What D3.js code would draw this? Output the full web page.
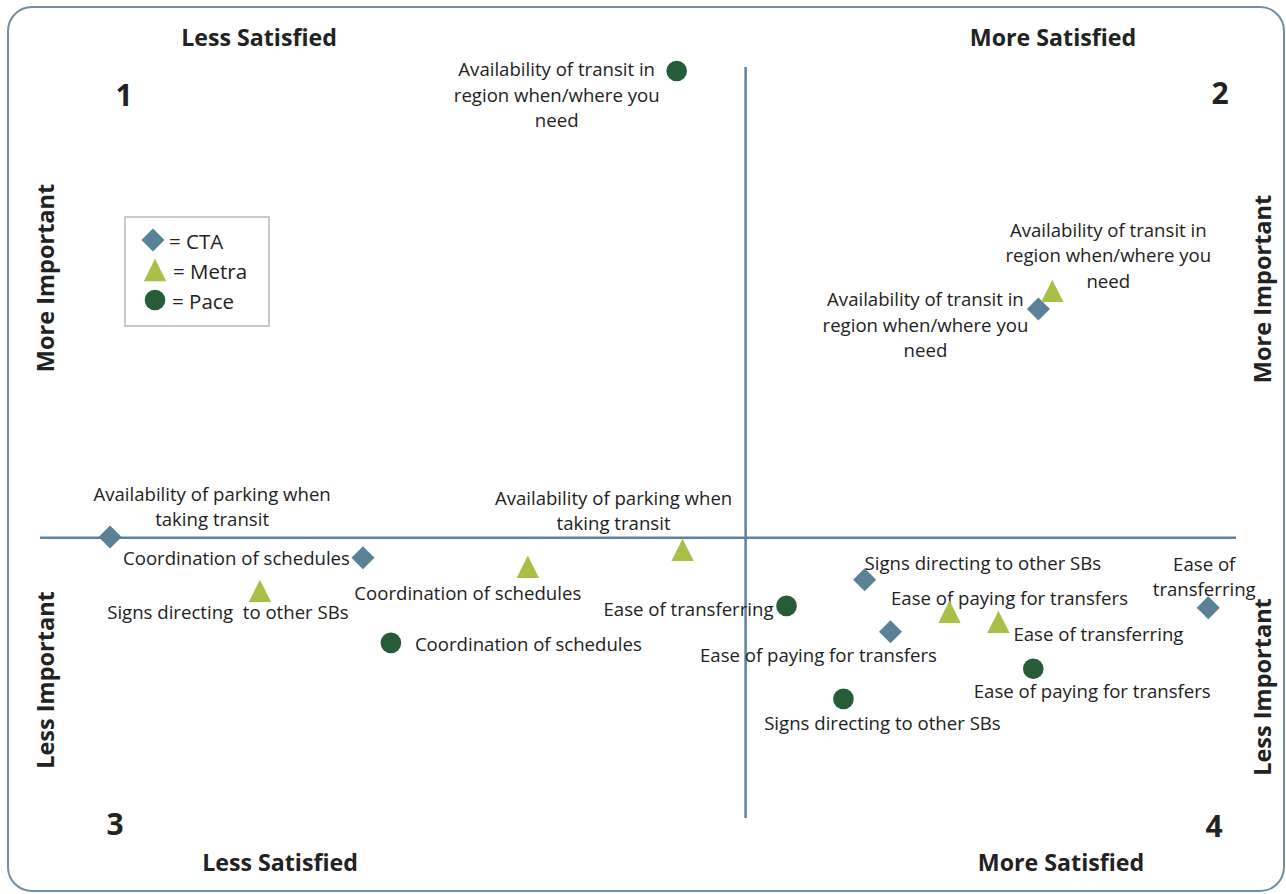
<!DOCTYPE html>
<html>
<head>
<meta charset="utf-8">
<script src="https://cdn.jsdelivr.net/npm/d3@7"></script>
<style>
  html, body { margin: 0; padding: 0; background: #fff; }
  svg { display: block; }
  text { font-family: "Open Sans", Lato, sans-serif; fill: #222; }
</style>
</head>
<body>
<svg id="chart" width="1286" height="894"></svg>
<script>
// Attribute names (one per row) and the three operators
const categories = [
  "Availability of transit in region when/where you need",
  "Availability of parking when taking transit",
  "Coordination of schedules",
  "Signs directing to other SBs",
  "Ease of paying for transfers",
  "Ease of transferring"
];
const operators = ["CTA", "Metra", "Pace"];

// Satisfaction (x) and importance (y), centred on the overall means
const ctaSatisfaction   = [1.245, -2.702, -1.627, 0.506, 0.616, 1.967];
const ctaImportance     = [0.972, 0.004, -0.085, -0.178, -0.399, -0.297];
const metraSatisfaction = [1.304, -0.268, -0.926, -2.065, 0.867, 1.075];
const metraImportance   = [1.049, -0.051, -0.123, -0.225, -0.314, -0.357];
// Pace has no parking item
const paceSatisfaction  = [-0.293, null, -1.508, 0.416, 1.223, 0.174];
const paceImportance    = [1.983, null, -0.446, -0.684, -0.556, -0.289];

// Extent of the quadrant dividers
const satisfactionExtent = [-3.0, 2.085];
const importanceExtent   = [-1.19, 2.0];

const quadrantTitles = ["Less Satisfied", "More Satisfied", "Less Satisfied", "More Satisfied"];
const quadrantNumbers = ["1", "2", "3", "4"];
const importanceTitles = ["More Important", "Less Important"];

const colors = { CTA: "#5b8197", Metra: "#a8bf48", Pace: "#265c38" };
const lineColor = "#5d829c";

const svg = d3.select("#chart");

const x = d3.scaleLinear().domain(satisfactionExtent).range([40, 1236]);
const y = d3.scaleLinear().domain(importanceExtent).range([818, 67]);

// Outer rounded frame
svg.append("rect")
  .attr("x", 8).attr("y", 7).attr("width", 1276).attr("height", 884)
  .attr("rx", 24).attr("ry", 24)
  .attr("fill", "none").attr("stroke", "#6f8fa4").attr("stroke-width", 2);

// Quadrant dividers
svg.append("line")
  .attr("x1", x(satisfactionExtent[0])).attr("x2", x(satisfactionExtent[1]))
  .attr("y1", y(0)).attr("y2", y(0))
  .attr("stroke", lineColor).attr("stroke-width", 2.5);
svg.append("line")
  .attr("x1", x(0)).attr("x2", x(0))
  .attr("y1", y(importanceExtent[1])).attr("y2", y(importanceExtent[0]))
  .attr("stroke", lineColor).attr("stroke-width", 2.5);

// Box-centred triangle (width equal to height), as spreadsheet markers draw it
const boxTriangle = {
  draw(context, size) {
    const h = Math.sqrt(size * 2) / 2;
    context.moveTo(0, -h);
    context.lineTo(h, h);
    context.lineTo(-h, h);
    context.closePath();
  }
};

// Marker shapes
const shapes = {
  CTA:   { path: d3.symbol().type(d3.symbolSquare).size(265)(), rotate: 45 },
  Metra: { path: d3.symbol().type(boxTriangle).size(250)(), rotate: 0 },
  Pace:  { path: d3.symbol().type(d3.symbolCircle).size(335)(), rotate: 0 }
};

// Label placement per operator/item: offset from marker, anchor
const labelLayout = {
  "CTA|0":   { dx: -113, dy: -11, anchor: "middle", lines: ["Availability of transit in", "region when/where you", "need"] },
  "CTA|1":   { dx: 102, dy: -44, anchor: "middle", lines: ["Availability of parking when", "taking transit"] },
  "CTA|2":   { dx: -13, dy: -1, anchor: "end", lines: ["Coordination of schedules"] },
  "CTA|3":   { dx: 0, dy: -18, anchor: "start", lines: ["Signs directing to other SBs"] },
  "CTA|4":   { dx: -72, dy: 22, anchor: "middle", lines: ["Ease of paying for transfers"] },
  "CTA|5":   { dx: -4, dy: -45, anchor: "middle", lines: ["Ease of", "transferring"] },
  "Metra|0": { dx: 56, dy: -62, anchor: "middle", lines: ["Availability of transit in", "region when/where you", "need"] },
  "Metra|1": { dx: -69, dy: -53, anchor: "middle", lines: ["Availability of parking when", "taking transit"] },
  "Metra|2": { dx: -60, dy: 25, anchor: "middle", lines: ["Coordination of schedules"] },
  "Metra|3": { dx: -32, dy: 20, anchor: "middle", lines: ["Signs directing\u00a0 to other SBs"] },
  "Metra|4": { dx: 60, dy: -15, anchor: "middle", lines: ["Ease of paying for transfers"] },
  "Metra|5": { dx: 15, dy: 11, anchor: "start", lines: ["Ease of transferring"] },
  "Pace|0":  { dx: -120, dy: -3, anchor: "middle", lines: ["Availability of transit in", "region when/where you", "need"] },
  "Pace|2":  { dx: 24, dy: 0, anchor: "start", lines: ["Coordination of schedules"] },
  "Pace|3":  { dx: 39, dy: 23, anchor: "middle", lines: ["Signs directing to other SBs"] },
  "Pace|4":  { dx: 59, dy: 21, anchor: "middle", lines: ["Ease of paying for transfers"] },
  "Pace|5":  { dx: -13, dy: 2, anchor: "end", lines: ["Ease of transferring"] }
};

const seriesValues = {
  CTA:   { xs: ctaSatisfaction, ys: ctaImportance },
  Metra: { xs: metraSatisfaction, ys: metraImportance },
  Pace:  { xs: paceSatisfaction, ys: paceImportance }
};

const points = [];
operators.forEach(op => {
  categories.forEach((cat, i) => {
    const xv = seriesValues[op].xs[i], yv = seriesValues[op].ys[i];
    if (xv == null || yv == null) return;
    points.push({ op, cat, i, xv, yv });
  });
});

const lineHeight = 25.5;
const labelFont = 18.6;

// Labels
const labelG = svg.append("g");
points.forEach(p => {
  const lay = labelLayout[p.op + "|" + p.i];
  if (!lay) return;
  const t = labelG.append("text")
    .attr("text-anchor", lay.anchor)
    .attr("font-size", labelFont)
    .attr("dominant-baseline", "central");
  lay.lines.forEach((ln, k) => {
    t.append("tspan")
      .attr("x", x(p.xv) + lay.dx)
      .attr("y", y(p.yv) + lay.dy + k * lineHeight)
      .text(ln);
  });
});

// Markers
svg.append("g").selectAll("path").data(points).join("path")
  .attr("d", d => shapes[d.op].path)
  .attr("transform", d => `translate(${x(d.xv)},${y(d.yv)}) rotate(${shapes[d.op].rotate})`)
  .attr("fill", d => colors[d.op]);

// Quadrant headings
const titlePos = [[259, 37], [1053, 37], [280, 862], [1061, 862]];
svg.append("g").selectAll("text").data(quadrantTitles).join("text")
  .attr("x", (d, i) => titlePos[i][0]).attr("y", (d, i) => titlePos[i][1])
  .attr("text-anchor", "middle").attr("dominant-baseline", "central")
  .attr("font-size", 23.2).attr("font-weight", "bold").attr("fill", "#000")
  .text(d => d);

const numberPos = [[124, 94], [1220, 92], [115, 823], [1214, 825]];
svg.append("g").selectAll("text").data(quadrantNumbers).join("text")
  .attr("x", (d, i) => numberPos[i][0]).attr("y", (d, i) => numberPos[i][1])
  .attr("text-anchor", "middle").attr("dominant-baseline", "central")
  .attr("font-size", 30).attr("font-weight", "bold").attr("fill", "#000")
  .text(d => d);

// Importance captions on both sides
const sideX = [45, 1262];
const sideY = [[278, 680], [289, 687]];
sideX.forEach((sx, s) => {
  importanceTitles.forEach((t, k) => {
    svg.append("text")
      .attr("transform", `translate(${sx},${sideY[s][k]}) rotate(-90)`)
      .attr("text-anchor", "middle").attr("dominant-baseline", "central")
      .attr("font-size", 23.5).attr("font-weight", "bold").attr("fill", "#000")
      .text(t);
  });
});

// Legend
const legend = svg.append("g");
legend.append("rect")
  .attr("x", 125).attr("y", 217).attr("width", 144).attr("height", 109)
  .attr("fill", "#fff").attr("stroke", "#c8c8c8").attr("stroke-width", 2);
const legendMarkerX = [153, 155, 155];
const legendTextX = [169, 173, 172];
operators.forEach((op, k) => {
  const ly = 240 + k * 30;
  legend.append("path")
    .attr("d", shapes[op].path)
    .attr("transform", `translate(${legendMarkerX[k]},${ly}) rotate(${shapes[op].rotate})`)
    .attr("fill", colors[op]);
  legend.append("text")
    .attr("x", legendTextX[k]).attr("y", ly + 1)
    .attr("dominant-baseline", "central").attr("font-size", 20.5)
    .text("= " + op);
});
</script>
</body>
</html>
